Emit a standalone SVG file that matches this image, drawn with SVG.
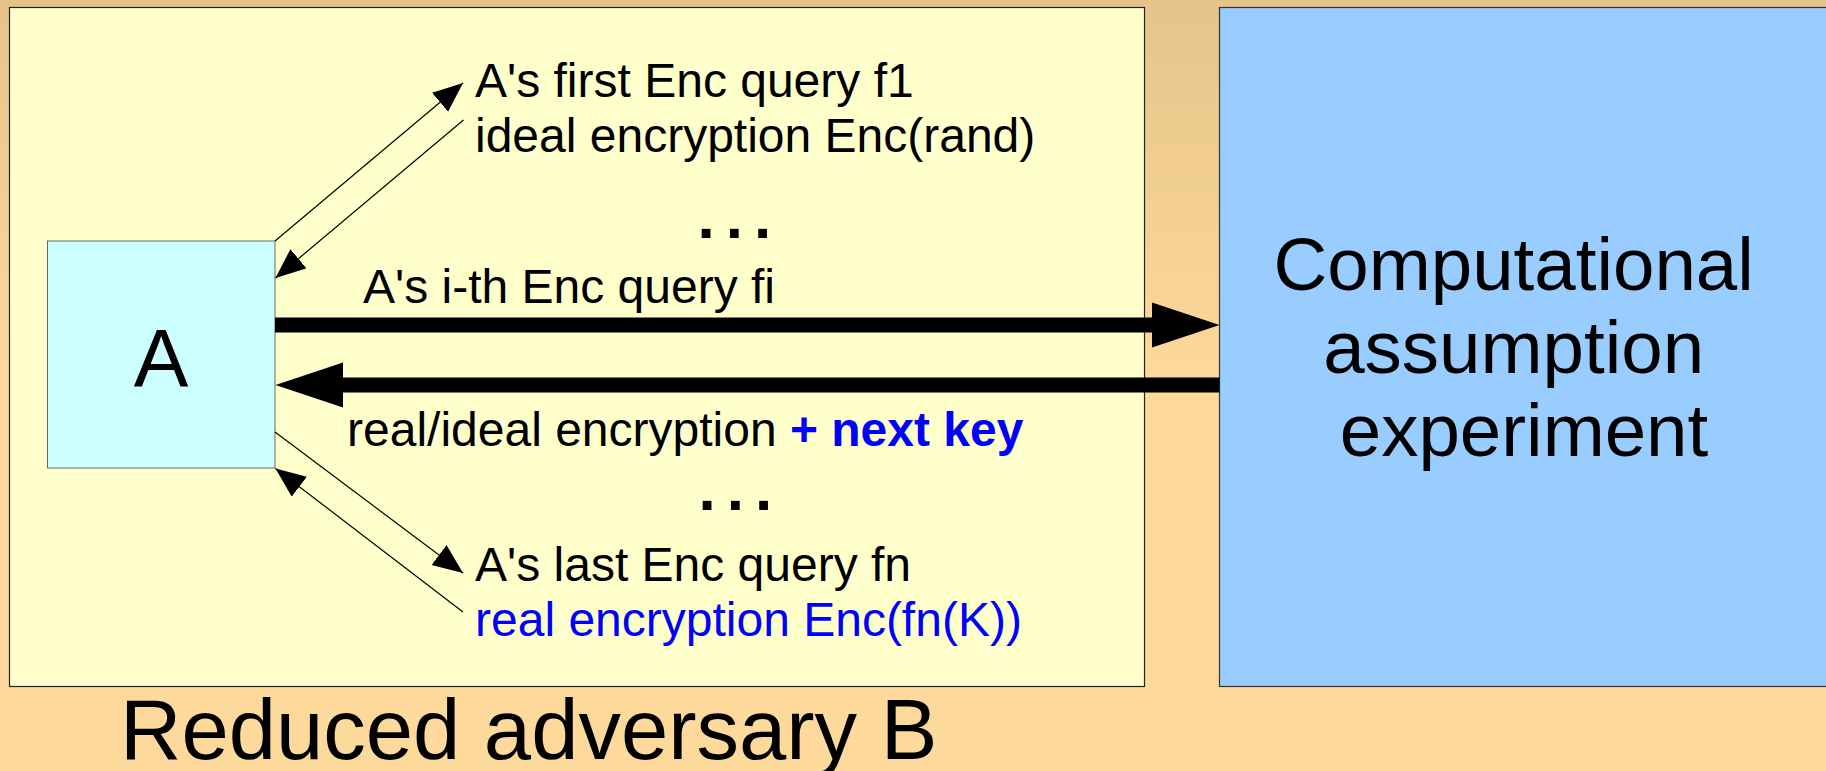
<svg xmlns="http://www.w3.org/2000/svg" width="1826" height="771" viewBox="0 0 1826 771">
  <defs>
    <linearGradient id="bg" x1="0" y1="0" x2="0" y2="771" gradientUnits="userSpaceOnUse">
      <stop offset="0" stop-color="#E6C389"/>
      <stop offset="0.5" stop-color="#FDD99B"/>
      <stop offset="1" stop-color="#FDD99B"/>
    </linearGradient>
    <marker id="thin" markerUnits="userSpaceOnUse" markerWidth="31" markerHeight="26" refX="30" refY="12.5" orient="auto" viewBox="0 0 31 26">
      <path d="M0,0 L30,12.5 L0,25 z" fill="#000"/>
    </marker>
    <style>
      .t { font-family: "Liberation Sans", Arial, sans-serif; fill: #000; }
      .mid { font-size: 48px; }
      .blue { fill: #0000FF; }
      .dots { font-family: "Liberation Sans", Arial, sans-serif; font-weight: bold; font-size: 62px; letter-spacing: 11px; fill: #000; }
      .thin { stroke: #000; stroke-width: 1.2; fill: none; marker-end: url(#thin); }
    </style>
  </defs>

  <rect x="0" y="0" width="1826" height="771" fill="url(#bg)"/>

  <g id="adversaryB">
    <rect x="9.5" y="7.5" width="1135" height="679" fill="#FFFFCC" stroke="#222" stroke-width="1.2"/>
    <text class="t" x="120" y="759" font-size="85">Reduced adversary B</text>
  </g>

  <g id="experiment">
    <rect x="1219.5" y="7.5" width="1605" height="679" fill="#99CCFF" stroke="#333" stroke-width="1.2"/>
    <text class="t" font-size="74.5" text-anchor="middle">
      <tspan x="1524" y="290">Computational</tspan>
      <tspan x="1524" y="373">assumption</tspan>
      <tspan x="1524" y="456">experiment</tspan>
    </text>
  </g>

  <g id="nodeA">
    <rect x="47.5" y="241" width="227.5" height="227" fill="#CCFFFF" stroke="#666" stroke-width="1"/>
    <text class="t" x="161" y="386" font-size="82" text-anchor="middle">A</text>
  </g>

  <g id="labels">
    <text class="t mid" x="475" y="97.3">A's first Enc query f1</text>
    <text class="t mid" x="475" y="151.7">ideal encryption Enc(rand)</text>
    <text class="dots" x="697.5" y="237.7">...</text>
    <text class="t mid" x="363" y="302.7">A's i-th Enc query fi</text>
    <text class="t mid" x="347" y="445.7">real/ideal encryption <tspan class="blue" font-weight="bold">+ next key</tspan></text>
    <text class="dots" x="698.5" y="510">...</text>
    <text class="t mid" x="475" y="580.7">A's last Enc query fn</text>
    <text class="t mid blue" x="475" y="636">real encryption Enc(fn(K))</text>
  </g>

  <g id="connectors">
    <line class="thin" x1="275" y1="241" x2="463" y2="83"/>
    <line class="thin" x1="463.5" y1="120" x2="275.5" y2="278"/>
    <line class="thin" x1="275" y1="432" x2="463" y2="573"/>
    <line class="thin" x1="463" y1="612" x2="275.5" y2="468.5"/>
    <rect x="275" y="317.5" width="878" height="15" fill="#000"/>
    <polygon points="1152,302.5 1219.5,325 1152,347.5" fill="#000"/>
    <rect x="342" y="377.5" width="877.5" height="15" fill="#000"/>
    <polygon points="343,362.5 275.5,385 343,407.5" fill="#000"/>
  </g>
</svg>
